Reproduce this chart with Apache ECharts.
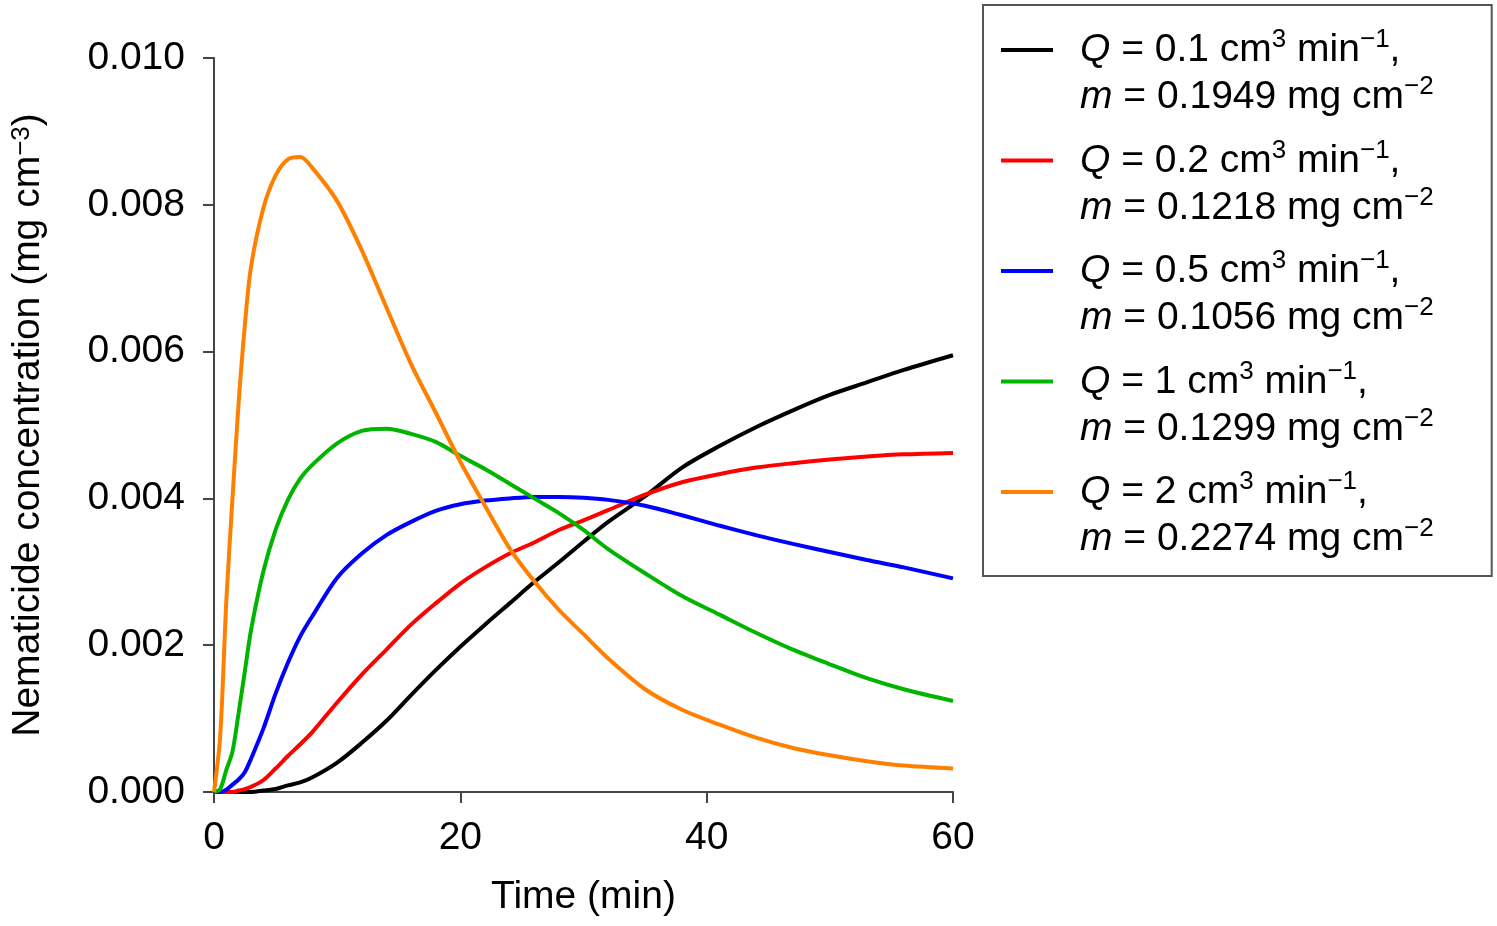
<!DOCTYPE html>
<html>
<head>
<meta charset="utf-8">
<script src="https://cdn.jsdelivr.net/npm/echarts@6/dist/echarts.min.js"></script>
<style>
html,body{margin:0;padding:0;background:#fff;}
#chart{width:1497px;height:926px;}
</style>
</head>
<body>
<div id="chart"></div>
<script>
// Time (min)
const time = [0,0.5,1,1.5,2,2.5,3,4,5,6,7,8,10,12,14,16,18,20,22,24,26,28,30,32,35,38,41,44,47,50,53,56,60];
// Concentration (mg cm^-3)
const cQ01 = [0,0,0,0,0,0,0,0.00002,0.00004,0.00009,0.00013,0.0002,0.0004,0.00067,0.00097,0.00132,0.00166,0.00198,0.00228,0.00257,0.00286,0.00313,0.00341,0.00368,0.00403,0.00442,0.00471,0.00497,0.0052,0.00541,0.00558,0.00575,0.00595];
const cQ02 = [0,0,0,0,0.00002,0.00004,0.00007,0.00016,0.00032,0.00049,0.00065,0.00082,0.00122,0.0016,0.00194,0.00228,0.00257,0.00284,0.00306,0.00325,0.0034,0.00357,0.0037,0.00384,0.00405,0.00422,0.00433,0.00442,0.00448,0.00453,0.00457,0.0046,0.00462];
const cQ05 = [0,0,0.00003,0.0001,0.00017,0.00027,0.00045,0.00086,0.00134,0.00176,0.00212,0.0024,0.00292,0.00325,0.0035,0.00368,0.00383,0.00392,0.00397,0.004,0.00402,0.00402,0.00401,0.00398,0.0039,0.00377,0.00363,0.0035,0.00338,0.00327,0.00316,0.00306,0.00291];
const cQ1  = [0,0.00004,0.0003,0.00055,0.00108,0.00164,0.0022,0.003,0.00357,0.00398,0.00427,0.00446,0.00475,0.00492,0.00495,0.00488,0.00477,0.00458,0.0044,0.0042,0.004,0.0038,0.00357,0.00331,0.00298,0.00267,0.00242,0.00217,0.00194,0.00174,0.00155,0.0014,0.00124];
const cQ2  = [0,0.00075,0.0026,0.004,0.0053,0.00635,0.00715,0.00795,0.0084,0.00862,0.00865,0.0085,0.00805,0.00738,0.0066,0.00583,0.00517,0.0045,0.0039,0.00332,0.00287,0.00248,0.00215,0.00182,0.0014,0.00112,0.00092,0.00074,0.0006,0.0005,0.00042,0.00036,0.00032];
// Legend labels
const flowRates = ['0.1','0.2','0.5','1','2'];
const masses = ['0.1949','0.1218','0.1056','0.1299','0.2274'];
const colors = ['#000000','#ff0000','#0000ff','#00b400','#ff8000'];
const xTicks = {min:0, max:60, interval:20};
const yTicks = {min:0, max:0.01, interval:0.002};

const seriesValues = [cQ01,cQ02,cQ05,cQ1,cQ2];
const FONT = "'Liberation Sans', Arial, sans-serif";
const FS = 39;

const chart = echarts.init(document.getElementById('chart'), null, {renderer:'canvas'});

const series = seriesValues.map((vals,i)=>({
  name: 'Q' + flowRates[i],
  type: 'line',
  data: time.map((t,j)=>[t, vals[j]]),
  showSymbol: false,
  symbol: 'none',
  smooth: 0.3,
  lineStyle: {color: colors[i], width: 4},
  itemStyle: {color: colors[i]},
  z: 2 + i
}));

const labelMap = {};
flowRates.forEach((q,i)=>{
  labelMap['Q'+q] = '{i|Q}{t| = ' + q + ' cm}{s|3}{t| min}{s|\u22121}{t|,}\n{i|m}{t| = ' + masses[i] + ' mg cm}{s|\u22122}';
});

const option = {
  backgroundColor: '#ffffff',
  animation: false,
  grid: {left: 214, top: 58, width: 739, height: 734, containLabel: false},
  xAxis: {
    type: 'value', min: xTicks.min, max: xTicks.max, interval: xTicks.interval,
    name: 'Time (min)', nameLocation: 'middle', nameGap: 86,
    nameTextStyle: {fontFamily: FONT, fontSize: FS, color: '#000'},
    axisLine: {show: true, lineStyle: {color: '#444', width: 2}},
    axisTick: {show: true, inside: false, length: 11, lineStyle: {color: '#444', width: 2}},
    axisLabel: {fontFamily: FONT, fontSize: FS, color: '#000', margin: 27},
    splitLine: {show: false}
  },
  yAxis: {
    type: 'value', min: yTicks.min, max: yTicks.max, interval: yTicks.interval,
    name: 'Nematicide concentration (mg cm{s|\u22123})', nameLocation: 'middle', nameGap: 166, nameRotate: 90,
    nameTextStyle: {fontFamily: FONT, fontSize: FS, color: '#000',
      rich: {s: {fontFamily: FONT, fontSize: 26, verticalAlign: 'top', lineHeight: 22, color: '#000'}}},
    axisLine: {show: true, lineStyle: {color: '#444', width: 2}},
    axisTick: {show: true, inside: false, length: 11, lineStyle: {color: '#444', width: 2}},
    axisLabel: {fontFamily: FONT, fontSize: FS, color: '#000', margin: 29,
      formatter: v => v.toFixed(3)},
    splitLine: {show: false}
  },
  legend: {
    orient: 'vertical',
    left: 983, top: 5,
    padding: [22, 58, 17, 18],
    itemGap: 20.5,
    itemWidth: 74, itemHeight: 52,
    icon: 'path://M0,0H52V4H0Z M73.9,51.9H74V52H73.9Z',
    borderColor: '#555', borderWidth: 2, borderRadius: 0,
    backgroundColor: '#fff',
    data: series.map(s=>s.name),
    formatter: name => labelMap[name],
    textStyle: {
      fontFamily: FONT, fontSize: FS, color: '#000',
      rich: {
        t: {fontFamily: FONT, fontSize: FS, lineHeight: 47, color: '#000'},
        i: {fontFamily: FONT, fontSize: FS, lineHeight: 47, fontStyle: 'italic', color: '#000'},
        s: {fontFamily: FONT, fontSize: 26, lineHeight: 22, verticalAlign: 'top', color: '#000'}
      }
    }
  },
  series: series
};
chart.setOption(option);
</script>
</body>
</html>
